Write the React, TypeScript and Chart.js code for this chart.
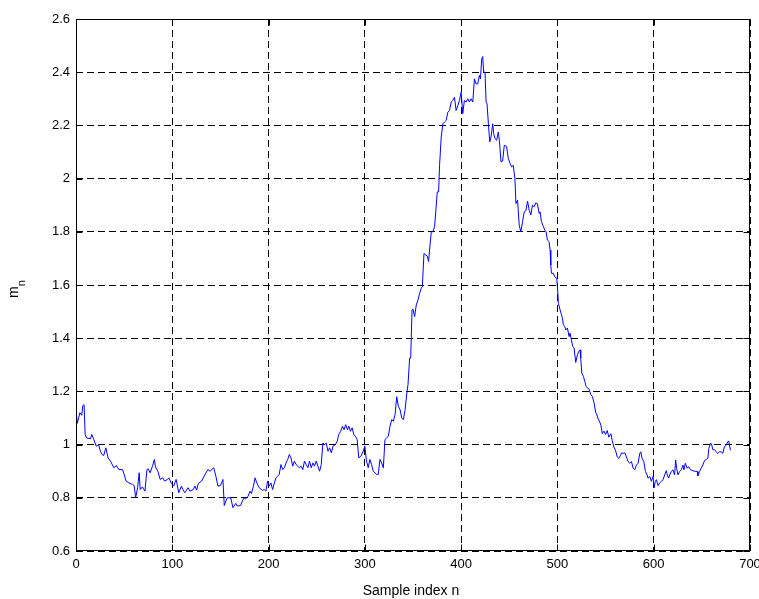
import { useEffect, useRef } from "react";
import { Chart, registerables } from "chart.js";

Chart.register(...registerables);

const sampleIndex = [
  0, 1.4, 4, 6, 7, 8.4, 9.5, 11, 15, 16.5, 18.5, 21, 23.5, 25.3, 27, 28.8, 31, 33.3, 35.8, 39.3,
  42, 44.5, 48.4, 50, 52, 55, 58.6, 60.4, 62, 64, 65.6, 66.7, 69, 71.6, 73.7, 75, 77, 79.6, 81.4, 82.5,
  85, 87.4, 90, 92, 95, 96.5, 99, 101.4, 104, 106.7, 109.5, 111, 113, 116.5, 118.2, 121.8, 123.5, 125.3, 127, 130.5,
  134, 137, 139.3, 143, 145.3, 147.4, 150, 152.6, 154, 157, 160.7, 163, 165.9, 167.6, 171, 172.8, 174.6, 176.3, 178.7, 180.8,
  182.2, 184.3, 186, 187.8, 190.2, 193.7, 195.5, 197.2, 199, 200.7, 202.4, 204.2, 206, 207.7, 209.4, 211, 212.9, 214.6, 216.4, 218.1,
  219.9, 221.6, 223.3, 225.1, 226.8, 228.6, 230.3, 232, 233.8, 235.5, 237.3, 239, 240.8, 242.5, 244.3, 246, 247.7, 249.5, 251.2, 253,
  254.7, 256.4, 258.2, 259.9, 261.7, 263.4, 265.2, 266.9, 269.3, 271.4, 272.8, 274.9, 276.7, 278.4, 280.1, 281.9, 283.3, 285, 286.8, 288.5,
  290.2, 292, 293.7, 295.8, 298.3, 300, 301.7, 303.5, 305.2, 307, 308.7, 310.5, 312.2, 313.9, 315.7, 317.4, 319.2, 320.9, 322.6, 324.4,
  326.1, 327.9, 329.6, 331.4, 333.1, 334.8, 336.6, 338.3, 340, 341.8, 343.6, 344.8, 346.5, 347.6, 349, 350, 351.7, 353.4, 355.2, 356.9,
  358.6, 359.7, 361.4, 363.1, 364.8, 366.2, 367.2, 369, 370.7, 372.4, 373.4, 375.2, 376.6, 377.6, 379.3, 381, 382.8, 384.5, 386.2, 387.9,
  389.7, 391.4, 393.1, 394.8, 396.6, 398.3, 400, 401.7, 403.4, 405.2, 406.9, 408.6, 410.3, 412.1, 413.8, 415.5, 417.2, 419, 420, 421.4,
  422.4, 423.4, 424.8, 425.9, 426.9, 428.3, 429.7, 431, 432.8, 433.8, 435.2, 436.9, 438.6, 439.7, 441.4, 443.1, 444.8, 447.2, 449, 451,
  452.4, 454.1, 455.9, 456.9, 458.6, 460.3, 462, 463.8, 465.5, 467.2, 469, 470.7, 472.4, 474, 475.8, 477.5, 479.2, 481, 482, 483.4,
  485.5, 486.9, 488.2, 489.6, 491.3, 492.4, 493.1, 493.8, 495.8, 497.2, 499.3, 500, 501, 502.8, 504.2, 505.2, 506.2, 507.6, 508.7, 510.4,
  512.1, 513.1, 514.5, 515.9, 517.3, 519, 520.8, 522.1, 523.5, 524.2, 525.3, 527, 528.4, 529.8, 531.1, 532.9, 534.6, 536.3, 538.1, 539.7,
  540.7, 542.4, 544.1, 545.2, 546.6, 548.3, 550, 551.7, 553.4, 555.5, 556.9, 558.6, 560.3, 562.1, 563.8, 565.5, 566.6, 568.3, 570, 571.7,
  573.4, 575.2, 576.9, 578.6, 580.3, 582, 583.8, 585.5, 586.6, 587.9, 589.7, 591.4, 593.1, 594.1, 595.9, 597.6, 599.3, 600.3, 601.7, 602.8,
  604.5, 606.2, 607.9, 609.7, 611.4, 613.1, 614.1, 615.5, 616.6, 618.3, 620, 621.7, 622.8, 623.8, 625.2, 626.9, 628.6, 630.3, 631.4, 632.8,
  634.8, 636.2, 638.3, 640.7, 643.1, 645.2, 645.9, 647.6, 649.3, 651, 652.8, 654.5, 656.2, 657.2, 659, 660.3, 661.4, 663.1, 664.8, 666.6,
  668.3, 670, 671.7, 673.4, 675.2, 676.9, 677.9, 679, 679.7,
];

const mValues = [
  1.125, 1.08, 1.12, 1.11, 1.146, 1.15, 1.038, 1.025, 1.022, 1.038, 1.019, 0.994, 1.0, 0.975, 0.963, 0.959, 0.988, 0.95, 0.938, 0.913,
  0.921, 0.906, 0.906, 0.888, 0.863, 0.856, 0.85, 0.846, 0.8, 0.838, 0.894, 0.831, 0.841, 0.825, 0.906, 0.909, 0.894, 0.921, 0.944, 0.916,
  0.9, 0.869, 0.875, 0.863, 0.869, 0.875, 0.854, 0.844, 0.869, 0.819, 0.844, 0.831, 0.819, 0.838, 0.825, 0.831, 0.844, 0.829, 0.854, 0.863,
  0.888, 0.906, 0.9, 0.913, 0.881, 0.844, 0.846, 0.869, 0.771, 0.8, 0.8, 0.763, 0.779, 0.769, 0.771, 0.788, 0.8, 0.796, 0.806, 0.825,
  0.816, 0.844, 0.875, 0.856, 0.838, 0.828, 0.831, 0.825, 0.863, 0.844, 0.856, 0.831, 0.856, 0.875, 0.881, 0.888, 0.925, 0.906, 0.913, 0.931,
  0.944, 0.963, 0.95, 0.919, 0.938, 0.925, 0.919, 0.913, 0.919, 0.906, 0.938, 0.925, 0.913, 0.938, 0.913, 0.931, 0.919, 0.938, 0.919, 0.9,
  0.925, 1.006, 1.0, 1.006, 0.975, 0.988, 0.969, 0.994, 1.0, 1.013, 1.038, 1.05, 1.069, 1.056, 1.075, 1.056, 1.069, 1.05, 1.063, 1.038,
  1.031, 1.019, 0.95, 0.956, 0.975, 0.994, 0.938, 0.913, 0.944, 0.925, 0.9, 0.894, 0.888, 0.888, 0.944, 0.931, 0.913, 1.019, 1.025, 1.031,
  1.069, 1.094, 1.088, 1.113, 1.18, 1.144, 1.131, 1.1, 1.094, 1.131, 1.194, 1.225, 1.325, 1.325, 1.506, 1.509, 1.481, 1.525, 1.544, 1.569,
  1.588, 1.594, 1.719, 1.713, 1.709, 1.688, 1.731, 1.8, 1.8, 1.819, 1.863, 1.95, 1.95, 2.05, 2.156, 2.206, 2.213, 2.219, 2.25, 2.256,
  2.288, 2.294, 2.306, 2.256, 2.275, 2.294, 2.325, 2.244, 2.294, 2.288, 2.3, 2.288, 2.3, 2.288, 2.375, 2.356, 2.356, 2.388, 2.375, 2.45,
  2.459, 2.4, 2.4, 2.288, 2.281, 2.206, 2.138, 2.156, 2.206, 2.169, 2.15, 2.144, 2.175, 2.144, 2.063, 2.066, 2.125, 2.121, 2.075, 2.056,
  2.044, 2.05, 2.0, 1.906, 1.919, 1.825, 1.8, 1.838, 1.875, 1.879, 1.915, 1.881, 1.863, 1.9, 1.894, 1.909, 1.906, 1.869, 1.875, 1.838,
  1.819, 1.806, 1.8, 1.769, 1.763, 1.731, 1.675, 1.644, 1.644, 1.631, 1.625, 1.594, 1.531, 1.506, 1.488, 1.475, 1.45, 1.444, 1.431, 1.438,
  1.406, 1.419, 1.394, 1.369, 1.363, 1.309, 1.338, 1.35, 1.356, 1.325, 1.269, 1.256, 1.238, 1.219, 1.213, 1.209, 1.188, 1.181, 1.156, 1.121,
  1.115, 1.096, 1.084, 1.072, 1.041, 1.051, 1.038, 1.053, 1.028, 1.041, 1.016, 0.991, 0.979, 0.954, 0.948, 0.96, 0.969, 0.967, 0.969, 0.954,
  0.936, 0.93, 0.936, 0.911, 0.905, 0.923, 0.93, 0.967, 0.973, 0.948, 0.936, 0.899, 0.886, 0.874, 0.88, 0.862, 0.88, 0.837, 0.862, 0.868,
  0.846, 0.856, 0.862, 0.868, 0.886, 0.902, 0.886, 0.874, 0.886, 0.899, 0.905, 0.886, 0.942, 0.911, 0.886, 0.899, 0.905, 0.923, 0.905, 0.93,
  0.911, 0.917, 0.905, 0.902, 0.899, 0.899, 0.883, 0.899, 0.911, 0.923, 0.94, 0.944, 0.948, 0.985, 1.006, 0.998, 0.981, 0.981, 0.973, 0.967,
  0.973, 0.973, 0.967, 0.991, 0.998, 1.01, 1.014, 0.991, 0.979,
];

const xTicks = [0, 100, 200, 300, 400, 500, 600, 700];
const xTickLabels = ["0", "100", "200", "300", "400", "500", "600", "700"];
const yTicks = [0.6, 0.8, 1.0, 1.2, 1.4, 1.6, 1.8, 2.0, 2.2, 2.4, 2.6];
const yTickLabels = ["0.6", "0.8", "1", "1.2", "1.4", "1.6", "1.8", "2", "2.2", "2.4", "2.6"];
const xTitle = "Sample index n";
const yTitleMain = "m";
const yTitleSub = "n";

const FONT = "'Liberation Sans', Arial, Helvetica, sans-serif";

export default function App() {
  const ref = useRef<HTMLCanvasElement | null>(null);

  useEffect(() => {
    if (!ref.current) return;

    const framePlugin = {
      id: "matlabFrame",
      afterDraw(chart: any) {
        const { ctx, chartArea: a, scales } = chart;
        ctx.save();
        ctx.setLineDash([]);
        ctx.strokeStyle = "#000";
        ctx.lineWidth = 1;
        const L = Math.round(a.left) + 0.5;
        const R = Math.round(a.right) - 0.5;
        const T = Math.round(a.top) + 0.5;
        const B = Math.round(a.bottom) - 0.5;
        ctx.beginPath();
        ctx.moveTo(L, T);
        ctx.lineTo(R, T);
        ctx.lineTo(R, B);
        ctx.lineTo(L, B);
        ctx.closePath();
        ctx.stroke();
        const tl = 6;
        ctx.beginPath();
        for (const v of xTicks) {
          const px = Math.round(scales.x.getPixelForValue(v)) + 0.5;
          ctx.moveTo(px, B);
          ctx.lineTo(px, B - tl);
          ctx.moveTo(px, T);
          ctx.lineTo(px, T + tl);
        }
        for (const v of yTicks) {
          const py = Math.round(scales.y.getPixelForValue(v)) + 0.5;
          ctx.moveTo(L, py);
          ctx.lineTo(L + tl, py);
          ctx.moveTo(R, py);
          ctx.lineTo(R - tl, py);
        }
        ctx.stroke();

        ctx.fillStyle = "#000";
        ctx.font = `14px ${FONT}`;
        ctx.textAlign = "center";
        ctx.textBaseline = "alphabetic";
        ctx.fillText(xTitle, 411, 595);

        ctx.translate(18, 298);
        ctx.rotate(-Math.PI / 2);
        ctx.textAlign = "left";
        ctx.font = `14px ${FONT}`;
        ctx.fillText(yTitleMain, 0, 0);
        const mw = ctx.measureText(yTitleMain).width;
        ctx.font = `11px ${FONT}`;
        ctx.fillText(yTitleSub, mw, 7);
        ctx.restore();
      },
    };

    const points = sampleIndex.map((x, i) => ({ x, y: mValues[i] }));

    const chart = new Chart(ref.current, {
      type: "line",
      data: {
        datasets: [
          {
            data: points,
            borderColor: "#0000ff",
            borderWidth: 1,
            pointRadius: 0,
            tension: 0,
            fill: false,
          },
        ],
      },
      options: {
        responsive: false,
        animation: false,
        devicePixelRatio: 1,
        parsing: false,
        layout: { padding: { top: 19, right: 9, left: 0, bottom: 0 } },
        plugins: {
          legend: { display: false },
          tooltip: { enabled: false },
          title: { display: false },
        },
        scales: {
          x: {
            type: "linear",
            min: 0,
            max: 700,
            afterBuildTicks: (s: any) => {
              s.ticks = xTicks.map((v) => ({ value: v }));
            },
            afterFit: (s: any) => {
              s.height = 48;
              s.paddingLeft = 0;
              s.paddingRight = 0;
            },
            grid: { color: "#000", lineWidth: 1, drawTicks: false },
            border: { display: false, dash: [7, 4] },
            ticks: {
              autoSkip: false,
              maxRotation: 0,
              padding: 6,
              color: "#000",
              font: { size: 13, family: FONT },
              callback: (_v: any, i: number) => xTickLabels[i],
            },
          },
          y: {
            type: "linear",
            min: 0.6,
            max: 2.6,
            afterBuildTicks: (s: any) => {
              s.ticks = yTicks.map((v) => ({ value: v }));
            },
            afterFit: (s: any) => {
              s.width = 76;
              s.paddingTop = 0;
              s.paddingBottom = 0;
            },
            grid: { color: "#000", lineWidth: 1, drawTicks: false },
            border: { display: false, dash: [7, 4] },
            ticks: {
              autoSkip: false,
              padding: 6,
              color: "#000",
              font: { size: 13, family: FONT },
              callback: (_v: any, i: number) => yTickLabels[i],
            },
          },
        },
      },
      plugins: [framePlugin],
    } as any);

    return () => chart.destroy();
  }, []);

  return (
    <div style={{ position: "fixed", left: 0, top: 0, width: 759, height: 599, background: "#fff" }}>
      <canvas ref={ref} width={759} height={599} style={{ display: "block" }} />
    </div>
  );
}
